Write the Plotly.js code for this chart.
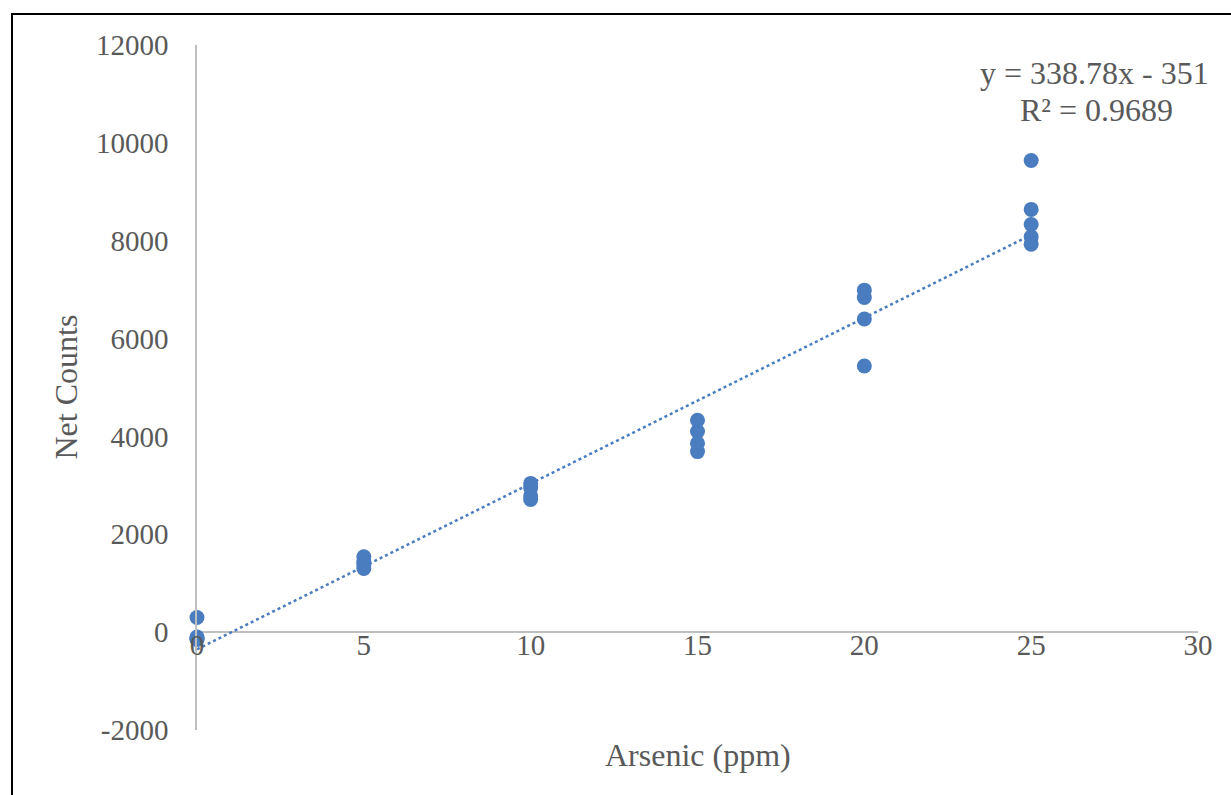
<!DOCTYPE html>
<html>
<head>
<meta charset="utf-8">
<script src="https://cdn.plot.ly/plotly-3.0.1.min.js"></script>
<style>html,body{margin:0;padding:0;background:#fff;}#chart{width:1231px;height:795px;}</style>
</head>
<body>
<div id="chart"></div>
<script>
const arsenicPpm = [0, 0, 0, 0, 0, 5, 5, 5, 5, 10, 10, 10, 10, 15, 15, 15, 15, 20, 20, 20, 20, 25, 25, 25, 25, 25];
const netCounts = [300, -100, -120, -140, -150, 1540, 1450, 1380, 1300, 3040, 2950, 2780, 2710, 4330, 4100, 3860, 3690, 6990, 6840, 6400, 5440, 9640, 8640, 8330, 8080, 7930];
const slope = 338.78;
const intercept = -351;
const trendX = [0, 25];
const trendY = trendX.map(x => slope * x + intercept);
const xTicks = [0, 5, 10, 15, 20, 25, 30];
const yTicks = [-2000, 0, 2000, 4000, 6000, 8000, 10000, 12000];
const yTickText = ['-2000', '0', '2000', '4000', '6000', '8000', '10000', '12000'];
const equationLine1 = 'y = 338.78x - 351';
const equationLine2 = 'R² = 0.9689';
const xTitle = 'Arsenic (ppm)';
const yTitle = 'Net Counts';

const fontFam = '"Liberation Serif", "Times New Roman", serif';
const gray = '#595959';
const blue = '#4A7CC0';
const plotH = 685, plotW = 1001, left = 197, bottomPx = 730;

const data = [
  {x: trendX, y: trendY, mode: 'lines', type: 'scatter', cliponaxis: false,
   line: {color: blue, width: 2.5, dash: 'dot'}, hoverinfo: 'skip'},
  {x: arsenicPpm, y: netCounts, mode: 'markers', type: 'scatter', cliponaxis: false,
   marker: {color: blue, size: 15}}
];

const layout = {
  width: 1231, height: 795,
  margin: {l: 197, r: 33, t: 45, b: 65},
  paper_bgcolor: '#fff', plot_bgcolor: '#fff',
  showlegend: false,
  font: {family: fontFam, color: gray, size: 29},
  xaxis: {
    range: [0, 30], tickvals: xTicks, ticktext: xTicks.map(String),
    showgrid: false, zeroline: false, showline: false,
    anchor: 'free', position: 2000 / 14000 + 7 / plotH,
    ticks: '', ticklabelstandoff: 0,
    tickfont: {family: fontFam, size: 29, color: gray}
  },
  yaxis: {
    range: [-2000, 12000], tickvals: yTicks, ticktext: yTickText,
    showgrid: false, zeroline: true, zerolinecolor: '#BFBFBF', zerolinewidth: 1.5,
    showline: true, linecolor: '#BFBFBF', linewidth: 1.5,
    ticks: '', ticklabelstandoff: 21,
    tickfont: {family: fontFam, size: 29, color: gray}
  },
  annotations: [
    {xref: 'paper', yref: 'paper', x: (1094 - left) / plotW, y: (bottomPx - 73) / plotH,
     xanchor: 'center', yanchor: 'middle', text: equationLine1, showarrow: false,
     font: {family: fontFam, size: 32, color: gray}},
    {xref: 'paper', yref: 'paper', x: (1096 - left) / plotW, y: (bottomPx - 110) / plotH,
     xanchor: 'center', yanchor: 'middle', text: equationLine2, showarrow: false,
     font: {family: fontFam, size: 32, color: gray}},
    {xref: 'paper', yref: 'paper', x: 0.5, y: (bottomPx - 755) / plotH,
     xanchor: 'center', yanchor: 'middle', text: xTitle, showarrow: false,
     font: {family: fontFam, size: 32, color: gray}},
    {xref: 'paper', yref: 'paper', x: (65 - left) / plotW, y: 0.5, textangle: -90,
     xanchor: 'center', yanchor: 'middle', text: yTitle, showarrow: false,
     font: {family: fontFam, size: 32, color: gray}}
  ],
  shapes: [{
    type: 'rect', xref: 'paper', yref: 'paper',
    x0: (12 - left) / plotW, x1: 1.2, y0: -0.3, y1: (bottomPx - 14) / plotH,
    line: {color: '#000', width: 2}, fillcolor: 'rgba(0,0,0,0)', layer: 'below'
  }]
};

Plotly.newPlot('chart', data, layout, {displayModeBar: false});
</script>
</body>
</html>
